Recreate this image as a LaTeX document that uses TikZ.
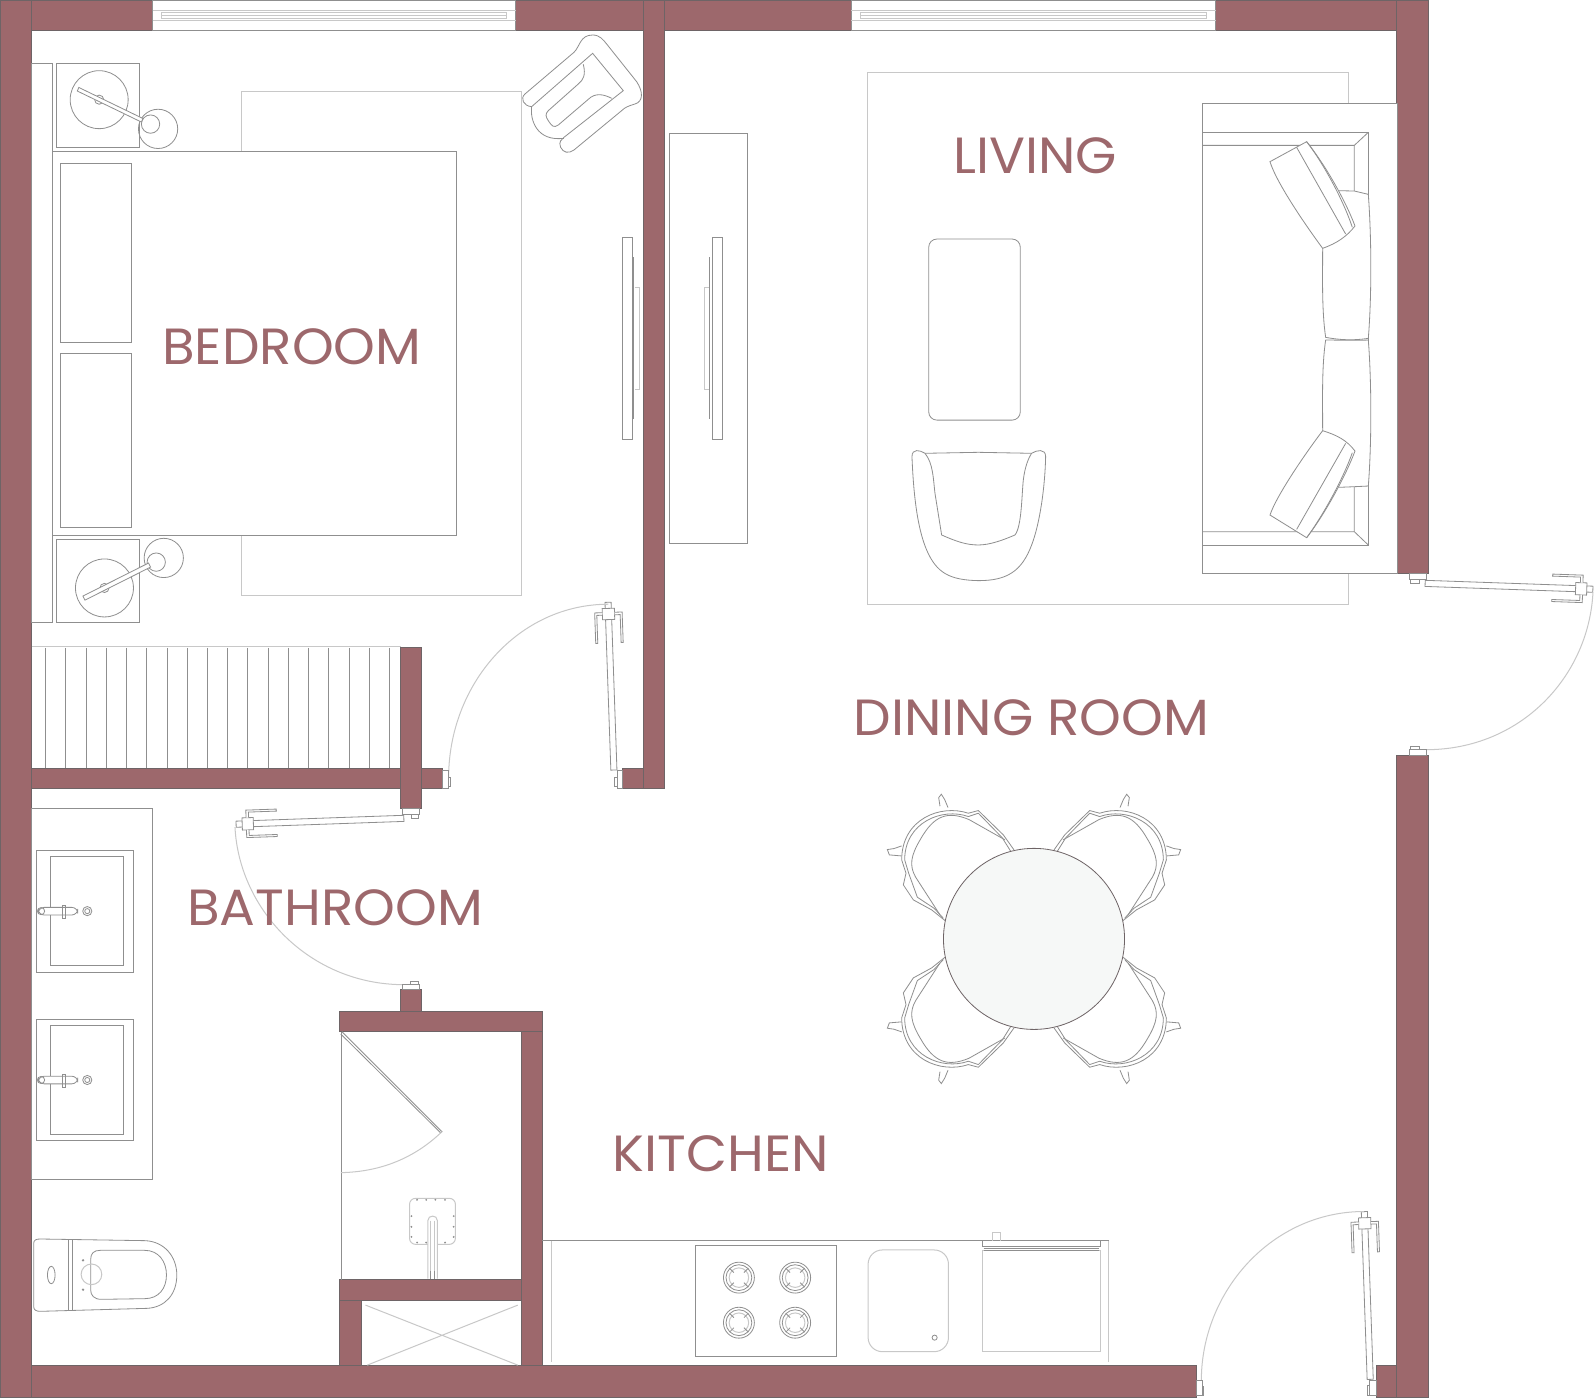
\documentclass[tikz,border=0pt]{standalone}
\usepackage{fontspec}
\newfontfamily\roomfont{Poppins}[FakeStretch=1.045]
\definecolor{wallred}{HTML}{9D686C}
\definecolor{wallline}{HTML}{6E6466}
\definecolor{furline}{HTML}{8F8F8F}
\definecolor{rugline}{HTML}{C8C8C8}
\definecolor{tabletop}{HTML}{F6F8F7}
\tikzset{
    wall/.style={fill=wallred,draw=wallline,line width=.35pt},
    fur/.style={draw=furline,line width=.4pt},
    rug/.style={draw=rugline,line width=.5pt},
    roomlabel/.style={text=wallred,font=\roomfont\fontsize{25}{25}\selectfont,inner sep=0pt},
    doorleaf/.pic={
        \draw[fur,fill=white] (0,-3) rectangle (165,3);
        \draw[fur,fill=white] (148,-6) rectangle (159,6);
        \foreach \s in {1,-1}
        \draw[fur,fill=white] (155,\s*6)--(155,\s*13.5)--(125,\s*13.5)--(125,\s*11.5)--(152.5,\s*11.5)--(152.5,\s*6);
    },
}
\begin{document}
\begin{tikzpicture}[x=.5pt,y=-.5pt]
\useasboundingbox (0,0) rectangle (1568,1373.4);
% walls
\foreach \p/\q in {{0,0}/{31,1373.4},{31,0}/{150,30},{507,0}/{632,30},{632,0}/{653,775},{653,0}/{837,30},{1195,0}/{1373,30},{1373,0}/{1404,564},{1373,743}/{1404,1373.4},{31,1342}/{1176,1373.4},{1353,1342}/{1373,1373.4},{31,755}/{435,775},{394,636}/{414,795},{612,755}/{632,775},{394,973}/{414,994},{334,994}/{533,1014},{513,1014}/{533,1342},{334,1258}/{513,1278},{334,1278}/{355,1342}}
\draw[wall] (\p) rectangle (\q);
% windows
\foreach \a/\b in {150/507,837/1195}{
\draw[fur] (\a,0) rectangle (\b,30);
\draw[rug] (\a,10.4)--(\b,10.4) (\a,20)--(\b,20);
\draw[rug] (\a+9,12.5) rectangle (\b-9,18) (\a+9,15.2)--(\b-9,15.2);
}
% bedroom
\draw[rug] (237,90) rectangle (513,585);
\draw[fur] (31,62) rectangle (52,612);
\draw[fur,fill=white] (52,149) rectangle (449,526);
\draw[fur] (59,161) rectangle (129.5,336.5) (59,347.5) rectangle (129.5,518);
\draw[fur] (55,62) rectangle (137.5,145) (55,530) rectangle (137.5,612);
\foreach \bx/\by/\sx/\sy/\tx/\ty in {97.5/98/155.4/126.7/148/122,102.7/578/161/548.5/153.6/552.6}{
\draw[fur] (\bx,\by) circle[radius=28.5] (\bx,\by) circle[radius=4.5];
\draw[fur] (\sx,\sy) circle[radius=19.3] (\tx,\ty) circle[radius=9];
}
\draw[fur,fill=white] (77.5,86)--(140.5,116.5)--(139,120)--(76,89.5)--cycle;
\draw[fur,fill=white] (81.5,586)--(146,553.5)--(148,557.5)--(83.5,590)--cycle;
% armchair by the wall
\begin{scope}[shift={(491.5,19.66)},scale=.3277]
\draw[fur] (95,260) .. controls (70,258) and (60,235) .. (75,222) -- (222,97) .. controls (240,80) and (240,45) .. (278,45) .. controls (300,45) and (310,60) .. (320,72) -- (410,185) .. controls (430,215) and (430,245) .. (405,252) .. controls (385,258) and (375,262) .. (365,272) -- (222,390) .. controls (205,402) and (190,398) .. (182,382) .. controls (175,365) and (185,358) .. (192,352) -- (370,212) -- (278,100) -- (95,260);
\draw[fur] (95,260) .. controls (90,300) and (110,365) .. (192,355);
\draw[fur] (250,133) .. controls (258,165) and (250,180) .. (235,192) -- (145,272) .. controls (135,282) and (137,290) .. (145,302) .. controls (155,318) and (162,325) .. (175,315) -- (265,238) .. controls (285,218) and (310,222) .. (335,235);
\end{scope}
\draw[fur] (612,233) rectangle (622,432) (622.6,253)--(622.6,412);
\draw[rug] (624,283) -- (628.5,283) -- (628.5,383) -- (624,383);
% tv unit
\draw[fur] (658,131) rectangle (735,534);
\draw[fur] (700,233) rectangle (710,432) (697,253)--(697,412);
\draw[rug] (697,283) -- (692.5,283) -- (692.5,383) -- (697,383);
% closet
\draw[rug] (31,636)--(394,636);
\foreach \i in {0,...,17}
\draw[fur] (44.8+\i*19.88,637)--(44.8+\i*19.88,755);
% living
\draw[rug] (853,71) rectangle (1326,594);
\draw[fur,rounded corners=4pt] (913,235) rectangle (1003,413);
\begin{scope}[shift={(874.9,422.7)},scale=.3277]
\draw[fur] (105,70) .. controls (90,60) and (66,55) .. (66,80) .. controls (70,180) and (80,290) .. (110,360) .. controls (140,430) and (180,450) .. (265,452) .. controls (350,452) and (395,425) .. (425,345) .. controls (450,280) and (465,170) .. (467,80) .. controls (467,55) and (440,60) .. (425,70) -- (265,67) -- cycle;
\draw[fur] (105,70) .. controls (130,100) and (130,150) .. (135,190) -- (155,315) .. controls (200,335) and (230,345) .. (265,345) .. controls (300,345) and (340,330) .. (375,315) .. controls (395,290) and (395,200) .. (400,150) .. controls (405,110) and (415,85) .. (425,70);
\end{scope}
\begin{scope}[shift={(1160,88.5)},scale=.3277]
\draw[fur,fill=white] (67,40) rectangle (652,1450);
\draw[fur] (67,127)--(565,127)--(565,1365)--(67,1365);
\draw[fur] (67,166)--(523,166)--(523,303) (523,166)--(565,127);
\draw[fur] (67,1325)--(523,1325)--(523,1190) (523,1325)--(565,1365);
\draw[fur,fill=white] (475,302)--(523,303)--(565,313) .. controls (575,450) and (575,620) .. (565,745) .. controls (520,752) and (480,750) .. (437,742) .. controls (425,660) and (428,560) .. (428,475);
\draw[fur,fill=white] (475,1192)--(523,1190)--(565,1188) .. controls (575,1060) and (575,880) .. (565,750) .. controls (520,752) and (480,750) .. (437,750) .. controls (425,830) and (428,930) .. (428,1024);
\draw[fur,fill=white] (270,215)--(380,155) .. controls (440,230) and (500,340) .. (525,408) .. controls (500,440) and (470,460) .. (428,475) .. controls (380,410) and (290,280) .. (270,215)--cycle;
\draw[fur] (350,172)--(497,432) (380,155) .. controls (430,220) and (490,330) .. (517,412);
\draw[fur,fill=white] (270,1275)--(380,1343) .. controls (440,1265) and (500,1150) .. (525,1083) .. controls (500,1050) and (470,1035) .. (428,1022) .. controls (380,1085) and (290,1215) .. (270,1275)--cycle;
\draw[fur] (350,1318)--(497,1060) (380,1343) .. controls (430,1275) and (490,1165) .. (517,1088);
\end{scope}
% dining
\foreach \sx in {1,-1}
\foreach \sy in {1,-1}{
\begin{scope}[shift={(1016.5,923)},xscale=\sx*.3277,yscale=\sy*.3277]
\draw[fur] (-60,-267)--(-92,-312)--(-167,-385)--(-197,-377) .. controls (-280,-405) and (-397,-360) .. (-397,-237)--(-384,-197)--(-392,-162)--(-362,-117)--(-307,-87)--(-267,-55);
\draw[fur] (-70,-263)--(-95,-303)--(-167,-377)--(-197,-367) .. controls (-275,-395) and (-388,-350) .. (-388,-237)--(-376,-197)--(-350,-125)--(-300,-92)--(-272,-62);
\draw[fur] (-87,-297)--(-195,-358) .. controls (-260,-385) and (-300,-370) .. (-340,-300) .. controls (-370,-250) and (-375,-220) .. (-355,-185)--(-282,-72);
\draw[fur] (-258,-394)--(-268,-418)--(-278,-434)--(-286,-424)--(-282,-398);
\draw[fur] (-397,-279)--(-420,-271)--(-440,-268)--(-434,-252)--(-399,-249);
\end{scope}
}
\draw[draw=wallline,line width=.4pt,fill=tabletop] (1016.5,923) circle[radius=89];
% doors
\pic[rotate=92] at (603.5,757) {doorleaf};
\pic[rotate=182] at (397,804.5) {doorleaf};
\pic[rotate=-2] at (1401,573.5) {doorleaf};
\pic[rotate=92] at (1347,1356) {doorleaf};
\draw[rug] (441,765) .. controls (441,672) and (510,594) .. (598,594);
\draw[rug] (231,813) .. controls (235,895) and (305,968) .. (397,968);
\draw[rug] (1566,582) .. controls (1562,665) and (1495,737) .. (1402,737);
\draw[rug] (1181,1357) .. controls (1181,1270) and (1250,1191) .. (1341,1191);
\foreach \p/\q in {{607,757}/{612,775},{603.6,764}/{607,773},{434.6,757}/{441,775},{441,764}/{443,773},{395.5,795}/{412.6,801},{404,801}/{411,804.5},{395.5,968}/{412.6,973},{403,965}/{411,968},{1385.5,564}/{1402.6,570},{1387,570}/{1395,573.5},{1385.5,737}/{1402.6,743},{1387,734}/{1395,737},{1346.6,1356.6}/{1353,1372},{1344,1362}/{1346.6,1372},{1176,1356.6}/{1182,1372},{1182,1363}/{1183.5,1372}}
\draw[fur,fill=white] (\p) rectangle (\q);
% bathroom
\draw[fur] (31,795) rectangle (150,1159);
\foreach \y in {0,166}{
\draw[fur] (36,836+\y) rectangle (131,955.5+\y) (50,842+\y) rectangle (121,949.5+\y);
\draw[fur,fill=white,rounded corners=3pt] (37.5,892+\y) rectangle (76.5,899.5+\y);
\draw[fur] (61.3,890+\y) rectangle (64,903+\y);
\draw[fur] (40.4,895.7+\y) circle[radius=3.5];
\draw[fur] (85.8,895.7+\y) circle[radius=4.5] (85.8,895.7+\y) circle[radius=2.5];
}
\begin{scope}[shift={(0,963.4)},xscale=.3762,yscale=.3277]
\draw[fur] (88,790) .. controls (88,780) and (95,777) .. (105,777) -- (380,782) .. controls (430,785) and (462,830) .. (462,885) .. controls (462,945) and (430,982) .. (385,985) -- (105,994) .. controls (95,994) and (88,990) .. (88,980) -- cycle;
\draw[fur] (178,777)--(178,992) (190,777)--(190,992);
\draw[fur] (134,885) ellipse[x radius=10,y radius=26];
\draw[fur] (262,811)--(378,811) .. controls (415,811) and (435,845) .. (435,885) .. controls (435,925) and (415,956) .. (378,956) -- (265,958) .. controls (245,958) and (237,945) .. (237,930) -- (237,838) .. controls (237,820) and (245,811) .. (262,811) -- cycle;
\draw[rug] (239,883) ellipse[x radius=27,y radius=31];
\fill[furline] (217,841) ellipse[x radius=3.5,y radius=4] (217,929) ellipse[x radius=3.5,y radius=4];
\end{scope}
% shower
\draw[fur] (336,1015)--(336,1258);
\draw[fur] (336,1014)--(434.5,1112.5)--(433,1113.5)--(335,1016.5);
\draw[rug] (434.5,1112.5) .. controls (408,1138) and (375,1152) .. (335,1152.8);
\draw[rug,rounded corners=3pt] (402.6,1178) rectangle (447.7,1223.3);
\foreach \x in {410,419,428,437.5}
\fill[furline] (\x,1179.5) circle[radius=1] (\x,1221.5) circle[radius=1];
\foreach \y in {1195.5,1206,1216}
\fill[furline] (404.5,\y) circle[radius=1] (446,\y) circle[radius=1];
\draw[rug,fill=white] (420.6,1257)--(420.6,1200) .. controls (420.6,1194) and (430,1194) .. (430,1200)--(430,1257);
\draw[rug] (423.5,1200)--(423.5,1257) (427,1200)--(427,1257);
\draw[fur] (423.5,1249)--(423.5,1257) (427,1249)--(427,1257);
% utility cupboard
\draw[rug] (359.3,1283)--(509,1342) (509,1283)--(361,1342);
% kitchen
\draw[fur] (533,1219.6)--(1090,1219.6);
\draw[rug] (1090,1219.6)--(1090,1338.6) (542,1219.6)--(542,1338.6);
\draw[fur] (683.5,1224) rectangle (822.3,1333.7);
\foreach \x in {726.4,781.7}
\foreach \y in {1256,1300.3}{
\draw[fur] (\x,\y) circle[radius=15.2] (\x,\y) circle[radius=12.7];
\draw[rug] (\x,\y) circle[radius=9.6];
\foreach \t in {45,135,225,315}
\draw[fur] (\x,\y)++(\t:7)--++(\t:6);
}
\draw[rug,rounded corners=7pt] (853.4,1228.8) rectangle (932.4,1328.8);
\draw[fur] (918.8,1315) circle[radius=2.5];
\draw[rug] (965.7,1229) rectangle (1081.4,1329);
\draw[fur] (965.7,1219.6)--(965.7,1225.5)--(1081.4,1225.5)--(1081.4,1219.6) (967,1227.3)--(1080,1227.3) (967,1229)--(1080,1229);
\draw[rug] (975.3,1219.6)--(975.3,1212) (983.7,1212)--(983.7,1219.6) (975.3,1212)--(983.7,1212);
% labels
\node[roomlabel] (bedroom) at (287,341) {BEDROOM};
\node[roomlabel] (living) at (1017.5,153) {LIVING};
\node[roomlabel] (dining) at (1014,706) {DINING ROOM};
\node[roomlabel] (bathroom) at (329.5,892) {BATHROOM};
\node[roomlabel] (kitchen) at (708.5,1134) {KITCHEN};
\end{tikzpicture}
\end{document}
